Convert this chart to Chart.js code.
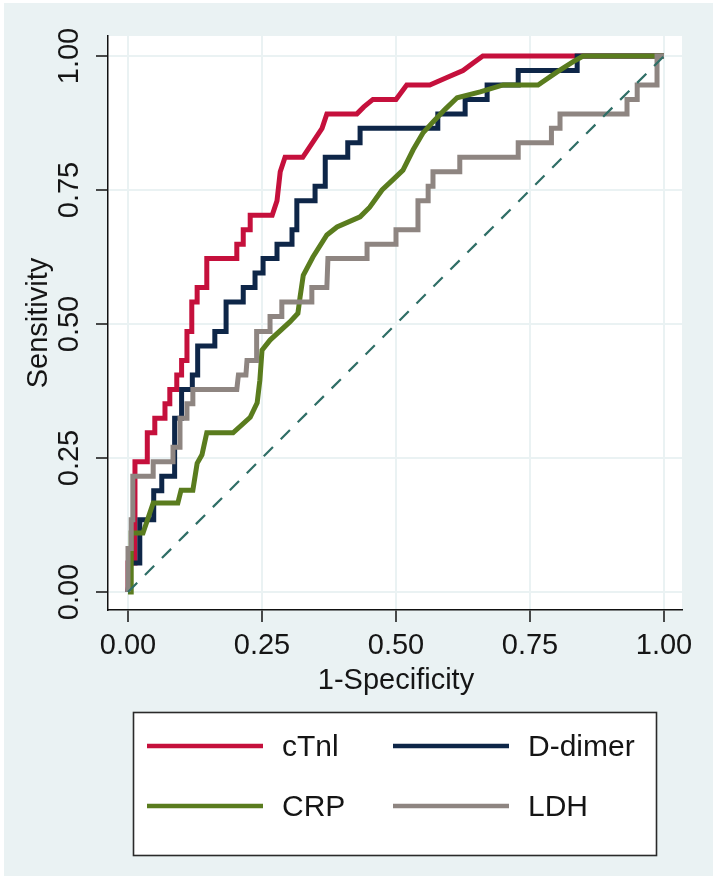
<!DOCTYPE html>
<html>
<head>
<meta charset="utf-8">
<script src="https://cdn.jsdelivr.net/npm/chart.js@4/dist/chart.umd.min.js"></script>
<style>
html,body{margin:0;padding:0;background:#fff;}
#wrap{position:relative;width:720px;height:881px;}
canvas{display:block;}
</style>
</head>
<body>
<div id="wrap"><canvas id="c" width="720" height="881"></canvas></div>
<script>
// ---- data ----
const tickValues = [0, 0.25, 0.5, 0.75, 1];
const tickLabels = ['0.00', '0.25', '0.50', '0.75', '1.00'];
const xTitle = '1-Specificity';
const yTitle = 'Sensitivity';
const seriesNames = ['cTnl', 'D-dimer', 'CRP', 'LDH'];
const seriesColors = ['#C5103C', '#0E2648', '#5A7C1E', '#8E8581'];
const refColor = '#2F6E66';

const ctnlX = [0,0,0.013,0.013,0.036,0.036,0.05,0.05,0.069,0.069,0.078,0.078,0.091,0.091,0.1,0.1,0.11,0.11,0.119,0.119,0.129,0.129,0.147,0.147,0.203,0.203,0.215,0.215,0.228,0.228,0.269,0.278,0.284,0.293,0.326,0.344,0.362,0.371,0.427,0.44,0.457,0.5,0.52,0.563,0.595,0.625,0.644,0.662,1];
const ctnlY = [0,0.054,0.054,0.243,0.243,0.297,0.297,0.324,0.324,0.351,0.351,0.378,0.378,0.405,0.405,0.432,0.432,0.486,0.486,0.541,0.541,0.568,0.568,0.622,0.622,0.649,0.649,0.676,0.676,0.703,0.703,0.73,0.784,0.811,0.811,0.838,0.865,0.892,0.892,0.905,0.919,0.919,0.946,0.946,0.96,0.973,0.987,1,1];

const ddimerX = [0,0.005,0.022,0.022,0.048,0.048,0.063,0.063,0.087,0.087,0.1,0.1,0.12,0.12,0.13,0.13,0.162,0.162,0.183,0.183,0.215,0.215,0.237,0.237,0.252,0.252,0.278,0.278,0.306,0.306,0.315,0.315,0.349,0.349,0.368,0.368,0.41,0.41,0.433,0.433,0.578,0.578,0.629,0.629,0.67,0.67,0.728,0.728,0.838,0.838,1];
const ddimerY = [0,0.054,0.054,0.135,0.135,0.189,0.189,0.216,0.216,0.324,0.324,0.378,0.378,0.405,0.405,0.459,0.459,0.486,0.486,0.541,0.541,0.568,0.568,0.595,0.595,0.622,0.622,0.649,0.649,0.676,0.676,0.73,0.73,0.757,0.757,0.811,0.811,0.838,0.838,0.865,0.865,0.892,0.892,0.919,0.919,0.946,0.946,0.973,0.973,1,1];

const crpX = [0,0.006,0.006,0.028,0.047,0.093,0.099,0.121,0.129,0.138,0.147,0.196,0.228,0.241,0.246,0.25,0.265,0.302,0.317,0.321,0.327,0.345,0.371,0.39,0.433,0.451,0.474,0.494,0.513,0.532,0.55,0.569,0.591,0.614,0.657,0.7,0.765,0.8,0.83,0.849,1];
const crpY = [0,0,0.11,0.11,0.166,0.166,0.19,0.19,0.24,0.256,0.297,0.297,0.326,0.353,0.395,0.451,0.47,0.504,0.52,0.55,0.591,0.625,0.666,0.681,0.7,0.718,0.75,0.769,0.787,0.825,0.856,0.877,0.9,0.922,0.933,0.946,0.946,0.97,0.989,1,1];

const ldhX = [0,0,0.006,0.006,0.009,0.009,0.047,0.047,0.084,0.084,0.097,0.097,0.11,0.11,0.121,0.121,0.203,0.206,0.22,0.222,0.24,0.24,0.265,0.265,0.287,0.287,0.343,0.343,0.371,0.373,0.446,0.446,0.5,0.5,0.541,0.541,0.56,0.56,0.569,0.569,0.619,0.619,0.728,0.728,0.79,0.79,0.806,0.806,0.931,0.931,0.95,0.95,0.987,0.987,1];
const ldhY = [0,0.081,0.081,0.135,0.135,0.216,0.216,0.243,0.243,0.27,0.27,0.324,0.324,0.351,0.351,0.378,0.378,0.405,0.405,0.432,0.432,0.486,0.486,0.514,0.514,0.541,0.541,0.568,0.568,0.622,0.622,0.649,0.649,0.676,0.676,0.73,0.73,0.757,0.757,0.784,0.784,0.811,0.811,0.838,0.838,0.865,0.865,0.892,0.892,0.919,0.919,0.946,0.946,1,1];

const refX = [0, 1];
const refY = [0, 1];

// ---- build ----
const pts = (xs, ys) => xs.map((x, i) => ({x: x, y: ys[i]}));
const FONT = '"Liberation Sans", Arial, Helvetica, sans-serif';
const TXT = '#151515';
const BG = '#EAF2F3';

function lineDs(label, xs, ys, color, order) {
  return {label: label, data: pts(xs, ys), borderColor: color, backgroundColor: color,
    borderWidth: 5, pointRadius: 0, tension: 0, fill: false, order: order,
    borderJoinStyle: 'miter', borderCapStyle: 'butt'};
}

const datasets = [
  lineDs(seriesNames[0], ctnlX, ctnlY, seriesColors[0], 5),
  lineDs(seriesNames[1], ddimerX, ddimerY, seriesColors[1], 4),
  lineDs(seriesNames[2], crpX, crpY, seriesColors[2], 3),
  lineDs(seriesNames[3], ldhX, ldhY, seriesColors[3], 2),
  {label: 'Reference', data: pts(refX, refY), borderColor: refColor, borderWidth: 2.2,
   borderDash: [13, 11], pointRadius: 0, tension: 0, fill: false, order: 1}
];

const decor = {
  id: 'decor',
  beforeDraw(chart) {
    const ctx = chart.ctx, a = chart.chartArea;
    ctx.save();
    ctx.fillStyle = '#fff';
    ctx.fillRect(0, 0, chart.width, chart.height);
    ctx.fillStyle = BG;
    ctx.fillRect(4, 3, 709, 873);
    ctx.fillStyle = '#fff';
    ctx.fillRect(a.left, a.top, a.right - a.left, a.bottom - a.top);
    ctx.restore();
  },
  afterDraw(chart) {
    const ctx = chart.ctx, a = chart.chartArea, ys = chart.scales.y;
    ctx.save();
    ctx.fillStyle = TXT;
    ctx.font = '29px ' + FONT;
    // y tick labels (rotated)
    tickValues.forEach((v, i) => {
      const py = ys.getPixelForValue(v);
      ctx.save();
      ctx.translate(70, py);
      ctx.rotate(-Math.PI / 2);
      ctx.textAlign = 'center';
      ctx.textBaseline = 'middle';
      ctx.fillText(tickLabels[i], 0, 0);
      ctx.restore();
    });
    // y title
    ctx.save();
    ctx.translate(47, (a.top + a.bottom) / 2);
    ctx.rotate(-Math.PI / 2);
    ctx.textAlign = 'center';
    ctx.textBaseline = 'alphabetic';
    ctx.fillText(yTitle, 0, 0);
    ctx.restore();
    // x title
    ctx.textAlign = 'center';
    ctx.textBaseline = 'alphabetic';
    ctx.fillText(xTitle, (a.left + a.right) / 2 + 1, 689);
    // legend box
    const bx = 133, by = 712, bw = 523, bh = 143;
    ctx.fillStyle = '#fff';
    ctx.fillRect(bx, by, bw, bh);
    ctx.strokeStyle = '#2a2a2a';
    ctx.lineWidth = 1.6;
    ctx.strokeRect(bx + 0.5, by + 0.5, bw, bh);
    const cols = [{lx: 147, tx: 282}, {lx: 393, tx: 528}];
    const rows = [746, 806];
    ctx.font = '30px ' + FONT;
    ctx.textAlign = 'left';
    ctx.textBaseline = 'middle';
    for (let i = 0; i < 4; i++) {
      const ds = chart.data.datasets[i];
      const c = cols[i % 2], r = rows[Math.floor(i / 2)];
      ctx.strokeStyle = ds.borderColor;
      ctx.lineWidth = 4.5;
      ctx.beginPath();
      ctx.moveTo(c.lx, r);
      ctx.lineTo(c.lx + 116, r);
      ctx.stroke();
      ctx.fillStyle = TXT;
      ctx.fillText(ds.label, c.tx, r + 2);
    }
    ctx.restore();
  }
};

const gridCfg = {color: BG, lineWidth: 2, tickColor: '#111', tickLength: 12, tickWidth: 1.5, drawTicks: true};

new Chart(document.getElementById('c'), {
  type: 'line',
  data: {datasets: datasets},
  options: {
    responsive: false,
    animation: false,
    devicePixelRatio: 1,
    layout: {padding: {left: 0, top: 36, right: 38, bottom: 181}},
    plugins: {legend: {display: false}, tooltip: {enabled: false}},
    scales: {
      x: {
        type: 'linear', min: -0.03731, max: 1.03358,
        afterBuildTicks: s => { s.ticks = tickValues.map(v => ({value: v})); },
        afterFit: s => { s.height = 90; },
        ticks: {
          callback: v => tickLabels[tickValues.indexOf(v)],
          font: {family: FONT, size: 29}, color: TXT, padding: 7,
          maxRotation: 0, minRotation: 0, autoSkip: false
        },
        grid: gridCfg,
        border: {display: true, color: '#111', width: 1.5}
      },
      y: {
        type: 'linear', min: -0.03358, max: 1.03731,
        afterBuildTicks: s => { s.ticks = tickValues.map(v => ({value: v})); },
        afterFit: s => { s.width = 108; },
        ticks: {display: false},
        grid: gridCfg,
        border: {display: true, color: '#111', width: 1.5}
      }
    }
  },
  plugins: [decor]
});
</script>
</body>
</html>
